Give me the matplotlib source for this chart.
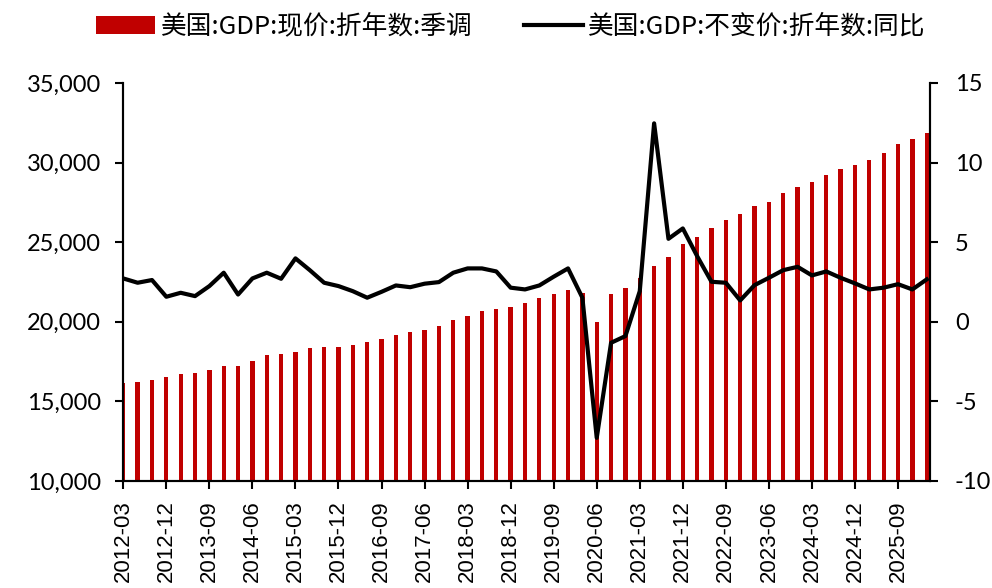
import matplotlib
matplotlib.use("Agg")
import matplotlib.pyplot as plt
from matplotlib.ticker import FuncFormatter, MultipleLocator

plt.rcParams['font.family'] = ['Noto Sans CJK SC', 'DejaVu Sans']

# 季度标签 2012-03 ... 2026-03
quarters = [f"{y}-{m}" for y in range(2012, 2027) for m in ("03", "06", "09", "12")][:57]

# 美国:GDP:现价:折年数:季调 (十亿美元)
gdp_nominal = [16127, 16230, 16315, 16523, 16692, 16793, 16963, 17233, 17233, 17510,
               17888, 17970, 18077, 18347, 18430, 18430, 18535, 18705, 18894, 19165,
               19353, 19460, 19711, 20089, 20360, 20655, 20819, 20907, 21196, 21473,
               21763, 22015, 21825, 20001, 21744, 22100, 22750, 23505, 24071, 24889,
               25330, 25896, 26380, 26795, 27280, 27550, 28097, 28474, 28770, 29209,
               29587, 29858, 30130, 30594, 31135, 31493, 31870]

# 美国:GDP:不变价:折年数:同比 (%)
gdp_real_yoy = [2.72, 2.45, 2.62, 1.57, 1.82, 1.61, 2.24, 3.08, 1.71, 2.72,
                3.08, 2.70, 3.98, 3.24, 2.45, 2.24, 1.92, 1.51, 1.88, 2.28,
                2.17, 2.39, 2.49, 3.08, 3.35, 3.35, 3.16, 2.14, 2.03, 2.28,
                2.83, 3.35, 1.51, -7.29, -1.32, -0.90, 1.92, 12.46, 5.21, 5.86,
                4.12, 2.51, 2.45, 1.34, 2.30, 2.76, 3.24, 3.45, 2.91, 3.16,
                2.76, 2.41, 2.03, 2.14, 2.36, 2.03, 2.66]

fig = plt.figure(figsize=(9.92, 5.88), dpi=100)
ax = fig.add_axes([0.124, 0.182, 0.8135, 0.677])
ax2 = ax.twinx()

x = list(range(len(quarters)))
bars = ax.bar(x, gdp_nominal, width=0.3, color="#C00000",
              label="美国:GDP:现价:折年数:季调")
line, = ax2.plot(x, gdp_real_yoy, color="black", linewidth=3,
                 label="美国:GDP:不变价:折年数:同比")

ax.set_xlim(-0.02, 56.23)
ax.set_ylim(10000, 35000)
ax.yaxis.set_major_locator(MultipleLocator(5000))
ax.yaxis.set_major_formatter(FuncFormatter(lambda v, p: f"{int(v):,}"))
ax2.set_ylim(-10, 15)
ax2.yaxis.set_major_locator(MultipleLocator(5))
ax2.yaxis.set_major_formatter(FuncFormatter(lambda v, p: str(int(round(v)))))

ax.set_xticks(x[::3])
ax.set_xticklabels(quarters[::3], rotation=90, family=['Liberation Sans'], fontsize=16)

for a in (ax, ax2):
    a.spines['top'].set_visible(False)
    for s in a.spines.values():
        s.set_linewidth(1.5)
    a.tick_params(direction='out', length=6, width=1.5)
ax.tick_params(axis='x', pad=8)
ax.tick_params(axis='y', pad=10)
ax2.tick_params(axis='y', pad=12)
for lbl in ax.get_yticklabels() + ax2.get_yticklabels():
    lbl.set_family(['Lato', 'DejaVu Sans'])
    lbl.set_fontsize(17)

fig.legend(handles=[bars, line], loc='upper center', bbox_to_anchor=(0.515, 1.016),
           ncol=2, frameon=False, fontsize=18.5, handlelength=2.3,
           columnspacing=2.0, handletextpad=0.2)

fig.savefig("out.png", dpi=100)
